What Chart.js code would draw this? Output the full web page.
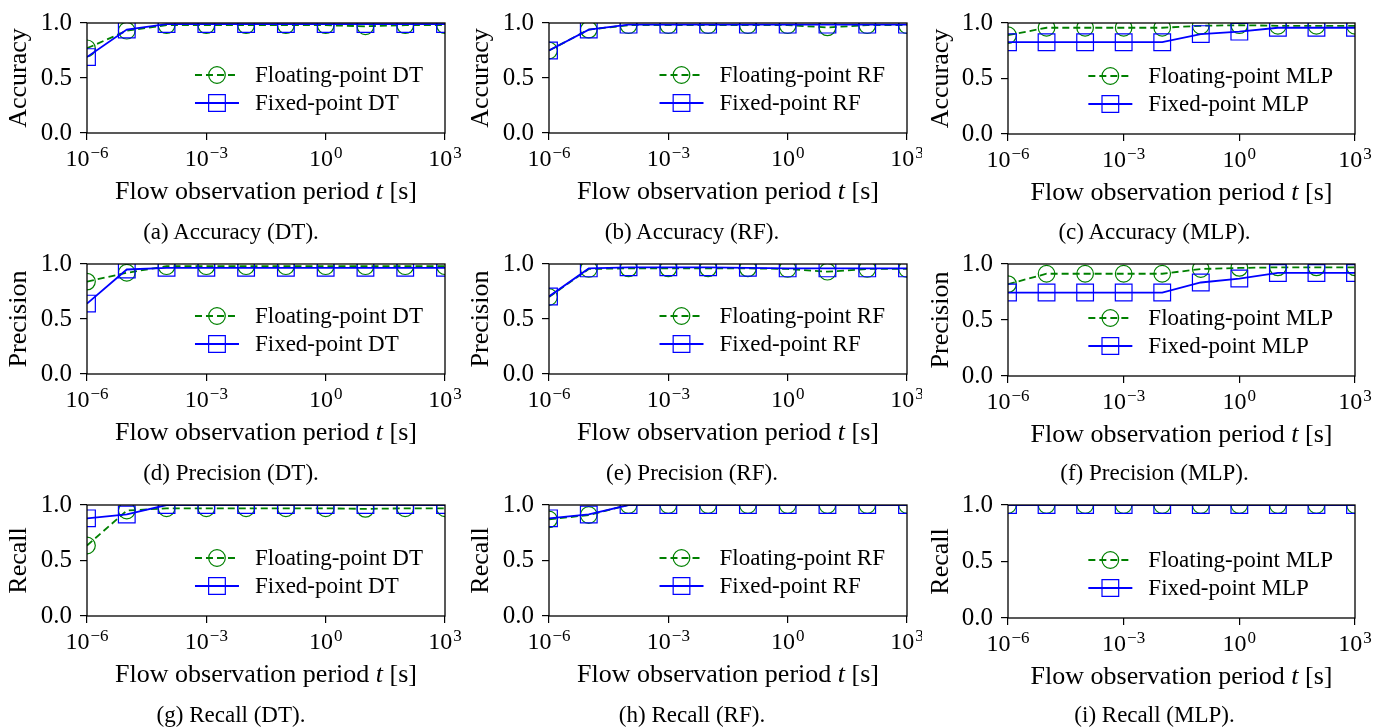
<!DOCTYPE html>
<html>
<head>
<meta charset="utf-8">
<script src="https://cdn.jsdelivr.net/npm/chart.js@4.4.1/dist/chart.umd.min.js"></script>
<style>
  body { margin: 0; background: #fff; }
  #fig { position: relative; width: 1387px; height: 728px; overflow: hidden; }
  #fig canvas { position: absolute; }
  .cap { position: absolute; text-align: center; font: 23px "Liberation Serif", "Times New Roman", serif; color: #000; height: 30px; line-height: 30px; }
</style>
</head>
<body>
<div id="fig"></div>
<script>
// flow observation periods t [s]
const periods = [1e-6, 1e-5, 1e-4, 1e-3, 1e-2, 1e-1, 1, 10, 100, 1000];
const xTicks = [1e-6, 1e-3, 1, 1e3];
const xTickExp = ['\u22126', '\u22123', '0', '3'];
const yTicks = [0, 0.5, 1.0];

// Accuracy
const accFloatDT  = [0.77, 0.93, 0.98, 0.98, 0.98, 0.98, 0.98, 0.97, 0.98, 0.98];
const accFixedDT  = [0.69, 0.94, 0.99, 0.99, 0.99, 0.99, 0.99, 0.99, 0.99, 0.99];
const accFloatRF  = [0.75, 0.94, 0.98, 0.98, 0.98, 0.98, 0.98, 0.96, 0.98, 0.98];
const accFixedRF  = [0.75, 0.94, 0.985, 0.985, 0.985, 0.985, 0.985, 0.985, 0.985, 0.985];
const accFloatMLP = [0.89, 0.957, 0.957, 0.957, 0.957, 0.975, 0.98, 0.975, 0.975, 0.975];
const accFixedMLP = [0.827, 0.827, 0.827, 0.827, 0.827, 0.90, 0.922, 0.957, 0.957, 0.957];

// Precision
const precFloatDT  = [0.84, 0.92, 0.98, 0.98, 0.98, 0.98, 0.98, 0.98, 0.98, 0.98];
const precFixedDT  = [0.64, 0.95, 0.965, 0.965, 0.965, 0.965, 0.965, 0.965, 0.965, 0.965];
const precFloatRF  = [0.70, 0.955, 0.96, 0.96, 0.96, 0.96, 0.955, 0.93, 0.955, 0.955];
const precFixedRF  = [0.705, 0.96, 0.97, 0.97, 0.97, 0.965, 0.96, 0.96, 0.96, 0.96];
const precFloatMLP = [0.82, 0.913, 0.913, 0.913, 0.913, 0.955, 0.965, 0.97, 0.97, 0.97];
const precFixedMLP = [0.745, 0.745, 0.745, 0.745, 0.745, 0.835, 0.87, 0.92, 0.92, 0.92];

// Recall
const recFloatDT  = [0.635, 0.95, 0.97, 0.97, 0.97, 0.97, 0.97, 0.965, 0.97, 0.97];
const recFixedDT  = [0.88, 0.915, 1, 1, 1, 1, 1, 1, 1, 1];
const recFloatRF  = [0.87, 0.91, 1, 1, 1, 1, 1, 1, 1, 1];
const recFixedRF  = [0.88, 0.915, 1, 1, 1, 1, 1, 1, 1, 1];
const recFloatMLP = [1, 1, 1, 1, 1, 1, 1, 1, 1, 1];
const recFixedMLP = [1, 1, 1, 1, 1, 1, 1, 1, 1, 1];

const serif = '"Liberation Serif", "Times New Roman", serif';
Chart.defaults.font.family = serif;
Chart.defaults.color = '#000';

// grid of panels (page pixels)
const cols = [
  { left: 0,   width: 462, l: 87,   r: 445 },
  { left: 462, width: 460, l: 549,  r: 907 },
  { left: 922, width: 465, l: 1008, r: 1355 }
];
const rows = [
  { top: 0,   height: 241, axisBottom: 210, capY: 232, t: [15, 15, 20],    b: [133, 133, 134] },
  { top: 241, height: 241, axisBottom: 451, capY: 473, t: [256, 256, 262], b: [374, 374, 376] },
  { top: 482, height: 246, axisBottom: 693, capY: 715, t: [497, 497, 504], b: [616, 616, 618] }
];

const panels = [
  { row: 0, col: 0, ylabel: 'Accuracy',  model: 'DT',  float: accFloatDT,   fixed: accFixedDT,   caption: '(a) Accuracy (DT).' },
  { row: 0, col: 1, ylabel: 'Accuracy',  model: 'RF',  float: accFloatRF,   fixed: accFixedRF,   caption: '(b) Accuracy (RF).' },
  { row: 0, col: 2, ylabel: 'Accuracy',  model: 'MLP', float: accFloatMLP,  fixed: accFixedMLP,  caption: '(c) Accuracy (MLP).' },
  { row: 1, col: 0, ylabel: 'Precision', model: 'DT',  float: precFloatDT,  fixed: precFixedDT,  caption: '(d) Precision (DT).' },
  { row: 1, col: 1, ylabel: 'Precision', model: 'RF',  float: precFloatRF,  fixed: precFixedRF,  caption: '(e) Precision (RF).' },
  { row: 1, col: 2, ylabel: 'Precision', model: 'MLP', float: precFloatMLP, fixed: precFixedMLP, caption: '(f) Precision (MLP).' },
  { row: 2, col: 0, ylabel: 'Recall',    model: 'DT',  float: recFloatDT,   fixed: recFixedDT,   caption: '(g) Recall (DT).' },
  { row: 2, col: 1, ylabel: 'Recall',    model: 'RF',  float: recFloatRF,   fixed: recFixedRF,   caption: '(h) Recall (RF).' },
  { row: 2, col: 2, ylabel: 'Recall',    model: 'MLP', float: recFloatMLP,  fixed: recFixedMLP,  caption: '(i) Recall (MLP).' }
];

// frame, x tick labels with superscripts, x label and the legend inside the axes
const decorations = {
  id: 'decorations',
  afterDatasetsDraw(chart) {
    const { ctx, chartArea: a } = chart;
    ctx.save();
    ctx.strokeStyle = '#000';
    ctx.lineWidth = 1.3;
    ctx.strokeRect(a.left, a.top, a.right - a.left, a.bottom - a.top);
    ctx.restore();
  },
  afterDraw(chart) {
    const { ctx, chartArea: a } = chart;
    const xs = chart.scales.x;
    ctx.save();
    ctx.fillStyle = '#000';
    ctx.textBaseline = 'alphabetic';
    ctx.textAlign = 'left';

    // tick labels 10^k
    xTicks.forEach((v, i) => {
      const px = xs.getPixelForValue(v);
      ctx.font = '24px ' + serif;
      const wb = ctx.measureText('10').width;
      ctx.font = '17px ' + serif;
      const we = ctx.measureText(xTickExp[i]).width;
      const x0 = px - (wb + we + 1) / 2;
      ctx.font = '24px ' + serif;
      ctx.fillText('10', x0, a.bottom + 33);
      ctx.font = '17px ' + serif;
      ctx.fillText(xTickExp[i], x0 + wb + 1, a.bottom + 25);
    });

    // x label with italic t
    const parts = [['Flow observation period ', ''], ['t', 'italic '], [' [s]', '']];
    let total = 0;
    parts.forEach(p => { ctx.font = p[1] + '26px ' + serif; total += ctx.measureText(p[0]).width; });
    let x = (a.left + a.right) / 2 - total / 2;
    parts.forEach(p => {
      ctx.font = p[1] + '26px ' + serif;
      ctx.fillText(p[0], x, a.bottom + 66);
      x += ctx.measureText(p[0]).width;
    });

    // legend, lower right
    ctx.font = '23px ' + serif;
    const sets = chart.data.datasets;
    const maxW = Math.max(...sets.map(ds => ctx.measureText(ds.label).width));
    const textX = a.right - 22 - maxW;
    const x2 = textX - 16, x1 = x2 - 44;
    sets.forEach((ds, i) => {
      const y = a.bottom - 58 + i * 28;
      ctx.strokeStyle = ds.borderColor;
      ctx.lineWidth = ds.borderWidth;
      ctx.setLineDash(ds.borderDash || []);
      ctx.beginPath();
      ctx.moveTo(x1, y);
      ctx.lineTo(x2, y);
      ctx.stroke();
      ctx.setLineDash([]);
      ctx.fillStyle = 'rgba(0,0,0,0)';
      ctx.lineWidth = ds.pointBorderWidth;
      Chart.helpers.drawPoint(ctx, { pointStyle: ds.pointStyle, radius: ds.pointRadius, borderWidth: ds.pointBorderWidth, rotation: 0 }, (x1 + x2) / 2, y);
      ctx.fillStyle = '#000';
      ctx.textBaseline = 'middle';
      ctx.fillText(ds.label, textX, y + 1);
    });
    ctx.restore();
  }
};

const fig = document.getElementById('fig');

panels.forEach(p => {
  const c = cols[p.col], r = rows[p.row];
  const t = r.t[p.col], b = r.b[p.col];

  const canvas = document.createElement('canvas');
  canvas.width = c.width;
  canvas.height = r.height;
  canvas.style.left = c.left + 'px';
  canvas.style.top = r.top + 'px';
  fig.appendChild(canvas);

  const cap = document.createElement('div');
  cap.className = 'cap';
  cap.style.left = c.left + 'px';
  cap.style.width = c.width + 'px';
  cap.style.top = (r.capY - 15) + 'px';
  cap.textContent = p.caption;
  fig.appendChild(cap);

  new Chart(canvas.getContext('2d'), {
    type: 'line',
    data: {
      datasets: [
        {
          label: 'Floating-point ' + p.model,
          data: p.float.map((v, i) => ({ x: periods[i], y: v })),
          borderColor: '#008000',
          borderWidth: 1.8,
          borderDash: [7, 4],
          pointStyle: 'circle',
          pointRadius: 8.3,
          pointBorderWidth: 1.2,
          pointBorderColor: '#008000',
          pointBackgroundColor: 'rgba(0,0,0,0)',
          clip: 0,
          order: 2
        },
        {
          label: 'Fixed-point ' + p.model,
          data: p.fixed.map((v, i) => ({ x: periods[i], y: v })),
          borderColor: '#0000ff',
          borderWidth: 1.8,
          pointStyle: 'rect',
          pointRadius: 11.8,
          pointBorderWidth: 1.2,
          pointBorderColor: '#0000ff',
          pointBackgroundColor: 'rgba(0,0,0,0)',
          clip: 0,
          order: 1
        }
      ]
    },
    options: {
      responsive: false,
      animation: false,
      devicePixelRatio: 1,
      events: [],
      layout: {
        padding: {
          left: 0,
          top: t - r.top,
          right: c.left + c.width - c.r,
          bottom: r.top + r.height - r.axisBottom
        }
      },
      plugins: { legend: { display: false }, tooltip: { enabled: false } },
      scales: {
        x: {
          type: 'logarithmic',
          min: 1e-6,
          max: 1e3,
          afterBuildTicks: s => { s.ticks = xTicks.map(v => ({ value: v })); },
          afterFit: s => { s.height = r.axisBottom - b; },
          ticks: { display: false },
          border: { display: false },
          grid: { drawOnChartArea: false, drawTicks: true, tickLength: 7, color: '#000', lineWidth: 1.2 }
        },
        y: {
          min: 0,
          max: 1,
          afterBuildTicks: s => { s.ticks = yTicks.map(v => ({ value: v })); },
          afterFit: s => { s.width = c.l - c.left; },
          ticks: { callback: v => v.toFixed(1), font: { size: 25 }, padding: 8 },
          border: { display: false },
          grid: { drawOnChartArea: false, drawTicks: true, tickLength: 7, color: '#000', lineWidth: 1.2 },
          title: { display: true, text: p.ylabel, font: { size: 26 }, padding: { top: 4, bottom: 4 } }
        }
      }
    },
    plugins: [decorations]
  });
});
</script>
</body>
</html>
